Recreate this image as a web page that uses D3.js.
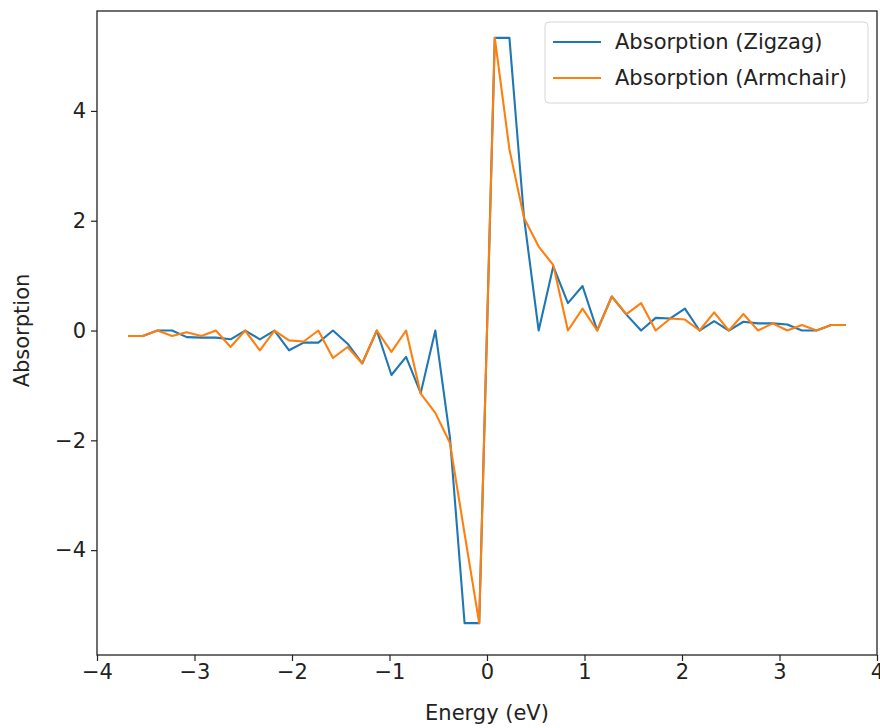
<!DOCTYPE html>
<html>
<head>
<meta charset="utf-8">
<script src="https://cdn.jsdelivr.net/npm/d3@7"></script>
<style>
  html, body { margin: 0; padding: 0; background: #fff; }
  svg { display: block; font-family: "DejaVu Sans", sans-serif; }
</style>
</head>
<body>
<svg width="880" height="728"></svg>
<script>
const width = 880, height = 728;
const svg = d3.select("svg");

// Energy grid (eV)
const energy = [
  -3.68, -3.53, -3.38, -3.23, -3.08, -2.93, -2.78, -2.63, -2.48, -2.33,
  -2.18, -2.03, -1.88, -1.73, -1.58, -1.43, -1.28, -1.13, -0.98, -0.83,
  -0.68, -0.53, -0.38, -0.23, -0.08, 0.08, 0.23, 0.38, 0.53, 0.68,
  0.83, 0.98, 1.13, 1.28, 1.43, 1.58, 1.73, 1.88, 2.03, 2.18,
  2.33, 2.48, 2.63, 2.78, 2.93, 3.08, 3.23, 3.38, 3.53, 3.68
];

// Absorption
const zigzag = [
  -0.10, -0.10, 0.00, 0.00, -0.12, -0.13, -0.13, -0.16, 0.00, -0.16,
  0.00, -0.36, -0.22, -0.22, 0.00, -0.24, -0.60, 0.00, -0.81, -0.48,
  -1.14, 0.00, -1.95, -5.33, -5.33, 5.33, 5.33, 2.05, 0.00, 1.17,
  0.50, 0.81, 0.00, 0.62, 0.29, 0.00, 0.23, 0.22, 0.40, 0.00,
  0.17, 0.00, 0.16, 0.13, 0.13, 0.11, 0.00, 0.00, 0.10, 0.10
];
const armchair = [
  -0.10, -0.10, 0.00, -0.10, -0.03, -0.10, 0.00, -0.30, 0.00, -0.36,
  0.00, -0.18, -0.20, 0.00, -0.50, -0.30, -0.60, 0.00, -0.39, 0.00,
  -1.15, -1.50, -2.05, -3.70, -5.33, 5.33, 3.30, 2.05, 1.53, 1.19,
  0.00, 0.40, 0.00, 0.62, 0.30, 0.50, 0.00, 0.22, 0.20, 0.00,
  0.33, 0.00, 0.30, 0.00, 0.13, 0.00, 0.10, 0.00, 0.10, 0.10
];

const seriesNames = ["Absorption (Zigzag)", "Absorption (Armchair)"];
const seriesColors = ["#1f77b4", "#ff7f0e"];
const xTicks = [-4, -3, -2, -1, 0, 1, 2, 3, 4];
const yTicks = [-4, -2, 0, 2, 4];

const margin = { top: 11, right: 3, bottom: 73, left: 97 };
const x = d3.scaleLinear().domain([-4, 4]).range([margin.left, width - margin.right]);
const y = d3.scaleLinear().domain([-5.91, 5.82]).range([height - margin.bottom, margin.top]);

const fmt = d => d < 0 ? "\u2212" + Math.abs(d) : String(d);
const fontSize = "21px";

// axes
const xAxis = svg.append("g")
  .attr("transform", `translate(0,${height - margin.bottom})`)
  .call(d3.axisBottom(x).tickValues(xTicks).tickFormat(fmt).tickSize(6).tickPadding(3));
const yAxis = svg.append("g")
  .attr("transform", `translate(${margin.left},0)`)
  .call(d3.axisLeft(y).tickValues(yTicks).tickFormat(fmt).tickSize(6).tickPadding(5));

[xAxis, yAxis].forEach(g => {
  g.select(".domain").remove();
  g.selectAll(".tick line").attr("stroke", "#222").attr("stroke-width", 1.2);
  g.selectAll(".tick text").attr("fill", "#222").style("font-size", fontSize)
    .style("font-family", "DejaVu Sans, sans-serif");
});

// lines
const line = d3.line().x((d, i) => x(energy[i])).y(d => y(d));
[zigzag, armchair].forEach((s, k) => {
  svg.append("path")
    .datum(s)
    .attr("fill", "none")
    .attr("stroke", seriesColors[k])
    .attr("stroke-width", 2.1)
    .attr("stroke-linejoin", "round")
    .attr("d", line);
});

// frame
svg.append("rect")
  .attr("x", margin.left).attr("y", margin.top)
  .attr("width", width - margin.left - margin.right)
  .attr("height", height - margin.top - margin.bottom)
  .attr("fill", "none").attr("stroke", "#222").attr("stroke-width", 1.3);

// axis labels
svg.append("text")
  .attr("x", (margin.left + width - margin.right) / 2)
  .attr("y", 720)
  .attr("text-anchor", "middle")
  .attr("fill", "#222")
  .style("font-size", fontSize)
  .text("Energy (eV)");

svg.append("text")
  .attr("transform", `translate(29,${y(0)}) rotate(-90)`)
  .attr("text-anchor", "middle")
  .attr("fill", "#222")
  .style("font-size", fontSize)
  .text("Absorption");

// legend
const legend = svg.append("g").attr("transform", "translate(545,22)");
legend.append("rect")
  .attr("width", 323).attr("height", 81).attr("rx", 4)
  .attr("fill", "#fff").attr("fill-opacity", 0.8)
  .attr("stroke", "#d6d6d6");
seriesNames.forEach((name, k) => {
  const row = legend.append("g").attr("transform", `translate(0,${20 + k * 36})`);
  row.append("line")
    .attr("x1", 8).attr("x2", 56)
    .attr("stroke", seriesColors[k]).attr("stroke-width", 2.1);
  row.append("text")
    .attr("x", 70).attr("dy", "0.35em")
    .attr("fill", "#222")
    .style("font-size", fontSize)
    .text(name);
});
</script>
</body>
</html>
